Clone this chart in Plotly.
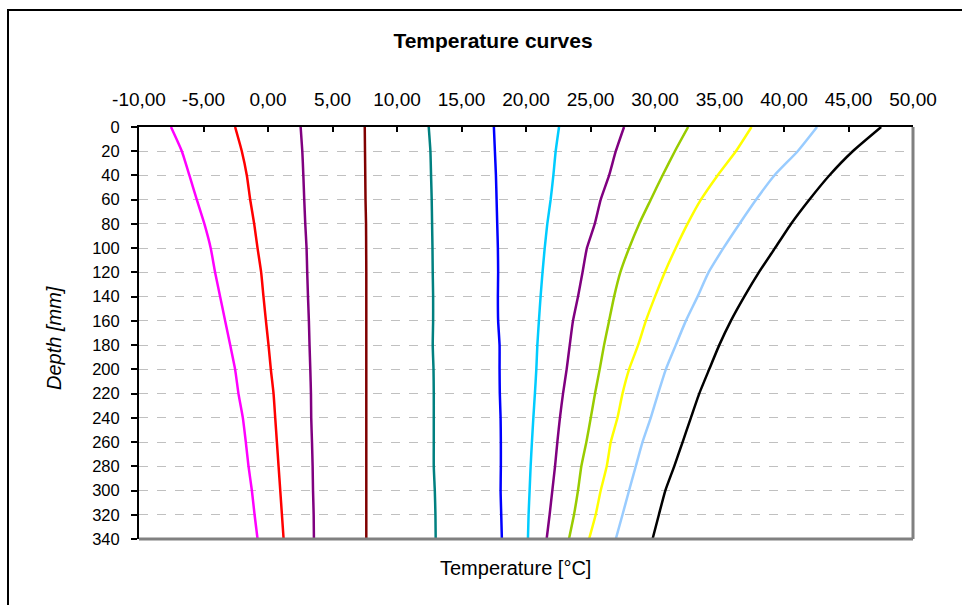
import plotly.graph_objects as go

depth = [0, 20, 40, 60, 80, 100, 120, 140, 160, 180, 200, 220, 240, 260, 280, 300, 320, 340]

t_magenta = [-7.52, -6.68, -6.09, -5.52, -4.93, -4.44, -4.10, -3.71, -3.32, -2.93, -2.55, -2.29, -1.95, -1.72, -1.51, -1.25, -1.04, -0.81]
t_red = [-2.55, -2.03, -1.64, -1.38, -1.07, -0.81, -0.53, -0.35, -0.16, 0.04, 0.22, 0.43, 0.56, 0.69, 0.82, 0.95, 1.08, 1.21]
t_purple1 = [2.53, 2.66, 2.74, 2.81, 2.89, 2.99, 3.04, 3.10, 3.17, 3.22, 3.28, 3.33, 3.35, 3.41, 3.46, 3.49, 3.54, 3.56]
t_maroon = [7.50, 7.52, 7.54, 7.56, 7.60, 7.61, 7.62, 7.62, 7.62, 7.62, 7.62, 7.62, 7.62, 7.62, 7.62, 7.62, 7.62, 7.62]
t_teal = [12.46, 12.59, 12.64, 12.69, 12.72, 12.75, 12.77, 12.80, 12.80, 12.77, 12.83, 12.85, 12.85, 12.85, 12.85, 12.93, 12.98, 13.00]
t_blue = [17.51, 17.59, 17.67, 17.72, 17.77, 17.82, 17.84, 17.82, 17.84, 17.95, 17.95, 17.97, 18.03, 18.05, 18.05, 18.03, 18.08, 18.13]
t_cyan = [22.56, 22.30, 22.12, 21.91, 21.65, 21.45, 21.28, 21.13, 21.00, 20.88, 20.80, 20.69, 20.57, 20.46, 20.36, 20.28, 20.20, 20.15]
t_purple2 = [27.60, 26.96, 26.44, 25.79, 25.33, 24.72, 24.38, 24.03, 23.64, 23.39, 23.15, 22.87, 22.63, 22.43, 22.25, 22.04, 21.83, 21.60]
t_green = [32.57, 31.54, 30.58, 29.67, 28.77, 27.99, 27.31, 26.83, 26.44, 26.05, 25.71, 25.35, 25.02, 24.68, 24.29, 24.03, 23.72, 23.33]
t_yellow = [37.48, 36.27, 34.85, 33.56, 32.52, 31.60, 30.75, 30.00, 29.29, 28.69, 27.99, 27.48, 27.09, 26.57, 26.26, 25.79, 25.40, 24.89]
t_lightblue = [42.56, 41.06, 39.25, 37.83, 36.54, 35.30, 34.15, 33.30, 32.39, 31.61, 30.84, 30.24, 29.67, 29.03, 28.51, 27.99, 27.48, 26.96]
t_black = [47.53, 45.33, 43.51, 41.96, 40.54, 39.30, 38.05, 36.92, 35.88, 34.98, 34.20, 33.43, 32.78, 32.14, 31.49, 30.80, 30.30, 29.81]

series = [t_magenta, t_red, t_purple1, t_maroon, t_teal, t_blue, t_cyan,
          t_purple2, t_green, t_yellow, t_lightblue, t_black]
colors = ["#FF00FF", "#FF0000", "#800080", "#800000", "#008080", "#0000FF", "#00CCFF",
          "#800080", "#99CC00", "#FFFF00", "#99CCFF", "#000000"]

x_tickvals = [-10, -5, 0, 5, 10, 15, 20, 25, 30, 35, 40, 45, 50]
x_ticktext = ["-10,00", "-5,00", "0,00", "5,00", "10,00", "15,00", "20,00",
              "25,00", "30,00", "35,00", "40,00", "45,00", "50,00"]
y_tickvals = list(range(0, 341, 20))

fig = go.Figure()
for s, c in zip(series, colors):
    fig.add_trace(go.Scatter(x=s, y=depth, mode="lines",
                             line=dict(color=c, width=2.5, shape="spline", smoothing=0.5),
                             showlegend=False, hoverinfo="skip"))

FONT = "Liberation Sans, Arial, sans-serif"
L, R, T, B = 139, 49, 127, 66
W, H = 962, 605
pw, ph = W - L - R, H - T - B

fig.update_layout(
    width=W, height=H,
    margin=dict(l=L, r=R, t=T, b=B),
    paper_bgcolor="white", plot_bgcolor="white",
    font=dict(family=FONT, color="black"),
    title=dict(text="<b>Temperature curves</b>", x=493 / W, xanchor="center",
               y=1 - 41 / H, yanchor="middle",
               font=dict(size=21, family=FONT, color="black")),
    xaxis=dict(range=[-10, 50], side="top", tickvals=x_tickvals, ticktext=x_ticktext,
               ticks="inside", ticklen=5, tickwidth=1.5, tickcolor="black",
               ticklabelstandoff=11,
               showline=True, linecolor="black", linewidth=2, mirror=False,
               showgrid=False, zeroline=False,
               tickfont=dict(size=19, family=FONT, color="black")),
    yaxis=dict(range=[340, 0], tickvals=y_tickvals,
               ticks="outside", ticklen=6, tickwidth=1.5, tickcolor="black",
               ticklabelstandoff=8,
               showline=True, linecolor="black", linewidth=2,
               showgrid=True, gridcolor="#C0C0C0", griddash="dash", gridwidth=1,
               zeroline=False,
               tickfont=dict(size=16.5, family=FONT, color="black")),
    shapes=[
        dict(type="rect", xref="paper", yref="paper",
             x0=(8 - L) / pw, x1=(990 - L) / pw,
             y0=(H - 640 - B) / ph, y1=(H - 10 - B) / ph,
             line=dict(color="black", width=2), layer="below"),
        dict(type="line", xref="paper", yref="paper", x0=1, x1=1, y0=0, y1=1,
             line=dict(color="#808080", width=3), layer="above"),
        dict(type="line", xref="paper", yref="paper", x0=0, x1=1, y0=0, y1=0,
             line=dict(color="#808080", width=3), layer="above"),
    ],
    annotations=[
        dict(text="Temperature [°C]", xref="paper", yref="paper",
             x=(515 - L) / pw, y=-(568 - (H - B)) / ph, xanchor="center", yanchor="middle",
             showarrow=False, font=dict(size=20, family=FONT, color="black")),
        dict(text="<i>Depth [mm]</i>", xref="paper", yref="paper",
             x=-(L - 54) / pw, y=(H - B - 338) / ph, xanchor="center", yanchor="middle",
             textangle=-90, showarrow=False,
             font=dict(size=20, family=FONT, color="black")),
    ],
)

fig.write_html("out.html")
